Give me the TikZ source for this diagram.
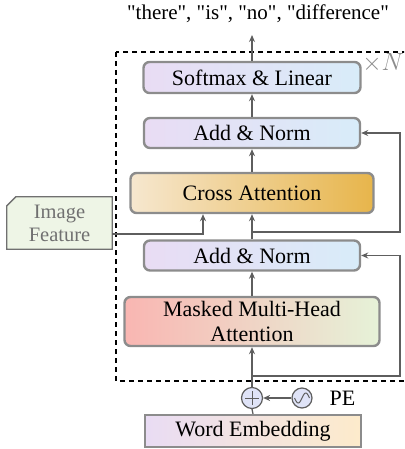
\documentclass[tikz,border=0pt]{standalone}
\usepackage{fontspec}
\setmainfont{Liberation Serif}
\newfontfamily\plainserif{Liberation Serif}[Ligatures=TeXOff]
\usetikzlibrary{arrows.meta,backgrounds}
\definecolor{boxgray}{HTML}{8C8C8C}
\definecolor{arrgray}{HTML}{5E5E5E}
\definecolor{lav}{HTML}{E9DCF4}
\definecolor{lblue}{HTML}{D8ECF9}
\definecolor{cream}{HTML}{F6E7CF}
\definecolor{gold}{HTML}{E7B54B}
\definecolor{pink}{HTML}{F9B6B2}
\definecolor{lgreen}{HTML}{E6F2D8}
\definecolor{peach}{HTML}{FDEBCB}
\definecolor{featfill}{HTML}{EEF5E6}
\definecolor{featgray}{HTML}{707070}
\definecolor{pefill}{HTML}{DFE3F7}
\begin{document}
\begin{tikzpicture}[x=1pt,y=-1pt,
  txt/.style={font=\fontsize{22}{25}\selectfont, align=center, inner sep=0pt},
  blk/.style={txt, draw=boxgray, line width=2.4pt, rounded corners=6pt},
  conn/.style={draw=arrgray, line width=1.3pt},
  arr/.style={conn, -{Stealth[length=7pt,width=6pt]}},
  pe/.style={circle, draw=arrgray, line width=1.2pt, fill=pefill, minimum size=#1, inner sep=0pt}
]
\useasboundingbox (0,0) rectangle (404,449);
\clip (0,0) rectangle (404,449);

% title and top output
\node[inner sep=0pt, font=\plainserif\fontsize{21}{24}\selectfont] (title) at (258,14) {"there", "is", "no", "difference"};
\coordinate (out) at (252,35);

% dashed repeat box
\draw[line width=1.3pt, dash pattern=on 5pt off 4pt] (116,52) rectangle (414,381);
\node[inner sep=0pt, text=boxgray, font=\fontsize{23}{25}\selectfont] (xn) at (383,63) {$\times N$};

% blocks
\node[blk, left color=lav, right color=lblue, minimum width=217pt, minimum height=31pt] (soft) at (252,77.5) {Softmax \& Linear};
\node[blk, left color=lav, right color=lblue, minimum width=216pt, minimum height=30pt] (addtop) at (252,133) {Add \& Norm};
\node[blk, left color=cream, right color=gold, minimum width=243pt, minimum height=40pt] (cross) at (252,193) {Cross Attention};
\node[blk, left color=lav, right color=lblue, minimum width=216pt, minimum height=30pt] (addmid) at (252,255.5) {Add \& Norm};
\node[blk, left color=pink, right color=lgreen, minimum width=255pt, minimum height=49pt] (mask) at (252,321.5) {Masked Multi-Head\\Attention};
\node[txt, draw=boxgray, line width=2.4pt, left color=lav, right color=peach, minimum width=216pt, minimum height=32pt] (word) at (253,431) {Word Embedding};

% image feature
\node[inner sep=0pt, align=center, text=featgray, font=\fontsize{20.5}{23}\selectfont, minimum width=105pt, minimum height=52pt] (feat) at (59.5,223) {Image\\Feature};
\begin{scope}[on background layer]
\draw[draw=featgray, line width=1.3pt, fill=featfill]
  (feat.south west) -- (feat.south east) -- (feat.north east) -- ([xshift=9pt]feat.north west) -- ([yshift=-9pt]feat.north west) -- cycle;
\end{scope}

% PE
\node[pe=21pt] (plus) at (252,398) {};
\draw[arrgray, line width=0.8pt] ([xshift=-7pt]plus.center) -- ([xshift=7pt]plus.center);
\draw[arrgray, line width=0.8pt] ([yshift=-7pt]plus.center) -- ([yshift=7pt]plus.center);
\node[pe=20pt] (sine) at (302,398) {};
\draw[arrgray, line width=1pt, shift={(sine.center)}] plot[domain=-180:180, samples=40, smooth] ({\x/180*7.5}, {-5*sin(\x)});
\node[txt, font=\fontsize{22}{24}\selectfont] (pelab) at (342.5,398) {PE};

% main connectors
\draw[conn] (word.north) -- (plus.south);
\draw[arr] (sine.west) -- (plus.east);
\draw[arr] (plus.north) -- (mask.south);
\draw[arr] (mask.north) -- (addmid.south);
\draw[arr] (addmid.north) -- (cross.south);
\draw[arr] (cross.north) -- (addtop.south);
\draw[arr] (addtop.north) -- (soft.south);
\draw[arr] (soft.north) -- (out);

% residuals
\coordinate (rx) at (400,0);
\coordinate (j1) at (252,232);
\coordinate (j2) at (252,376);
\draw[arr] (j1) -| (rx |- addtop.east) -- (addtop.east);
\draw[arr] (j2) -| (rx |- addmid.east) -- (addmid.east);

% image feature into cross attention
\draw[arr] ([yshift=-11pt]feat.east) -| ([xshift=-49pt]cross.south);
\end{tikzpicture}
\end{document}
